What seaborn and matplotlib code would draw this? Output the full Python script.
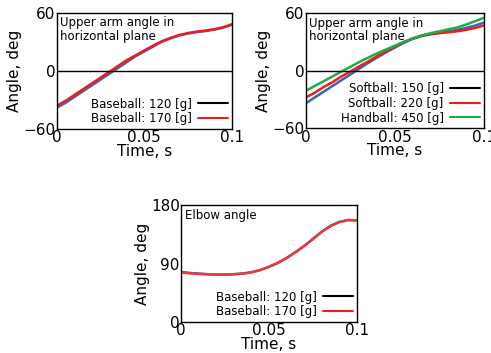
import numpy as np
import pandas as pd
import seaborn as sns
import matplotlib.pyplot as plt
from matplotlib.lines import Line2D

# time samples, s
t = [0, 0.005, 0.01, 0.015, 0.02, 0.025, 0.03, 0.035, 0.04, 0.045, 0.05,
     0.055, 0.06, 0.065, 0.07, 0.075, 0.08, 0.085, 0.09, 0.095, 0.1]

# upper arm angle, baseball
base120 = [-38, -33, -27, -21, -15, -9, -3, 3, 9, 15, 20,
           25, 30, 33.5, 36.5, 38.5, 40, 41, 42.5, 44.5, 47.5]
base170 = [-36, -31, -25, -19, -13, -7, -1, 5, 11, 16, 21,
           26, 30.5, 34, 37, 39, 40.5, 41.5, 43, 45, 48]

# upper arm angle, softball / handball
soft150 = [-34, -28, -22, -16, -10, -4, 2, 8, 13.5, 19, 24,
           29, 33, 36, 38, 39.5, 41, 42.5, 44.5, 47, 50]
soft220 = [-28, -23, -17, -12, -6, -1, 4.5, 9.5, 15, 20, 25,
           29.5, 33.5, 36.5, 38, 39, 40, 41, 42.5, 44.5, 47]
hand450 = [-21, -16, -11, -6, -1, 4, 9, 13.5, 18, 22, 26,
           30, 33.5, 36.5, 39, 41, 43, 45, 48, 51.5, 55]

# elbow angle, baseball
elb120 = [77, 75.5, 74.5, 73.5, 73, 73, 73.5, 74.5, 76.5, 80, 85,
          91, 98.5, 107.5, 117, 128, 139, 148, 154, 157, 156.5]
elb170 = [76, 75, 74, 73.5, 73, 73, 73.5, 74.5, 76.5, 80, 85,
          91, 98.5, 107.5, 117, 128, 139, 148, 154, 157, 156.5]

sns.set_theme(style="white")
plt.rcParams['font.family'] = ['DejaVu Sans']
plt.rcParams['text.color'] = 'black'
plt.rcParams['axes.labelcolor'] = 'black'
plt.rcParams['xtick.color'] = 'black'
plt.rcParams['ytick.color'] = 'black'

fig = plt.figure(figsize=(4.91, 3.53), dpi=100)


def panel(rect, series, legend_colors, labels, ylim, yticks, note, zero_line):
    ax = fig.add_axes(rect)
    for vals, c in series:
        df = pd.DataFrame({"Time": t, "Angle": vals})
        sns.lineplot(data=df, x="Time", y="Angle", color=c, lw=1.8, ax=ax)
    if zero_line:
        ax.axhline(0, color="black", lw=1)
    ax.set_xlim(0, 0.1)
    ax.set_ylim(*ylim)
    ax.set_xticks([0, 0.05, 0.1])
    ax.set_xticklabels(["0", "0.05", "0.1"])
    ax.set_yticks(yticks)
    ax.tick_params(length=0, labelsize=11, pad=1)
    ax.set_xlabel("Time, s", fontsize=11, labelpad=-1)
    ax.set_ylabel("Angle, deg", fontsize=11, labelpad=1)
    for s in ax.spines.values():
        s.set_color("black")
        s.set_linewidth(1)
    ax.text(0.02, 0.97, note, transform=ax.transAxes, ha="left", va="top",
            fontsize=8.5, linespacing=1.05)
    handles = [Line2D([], [], color=c, lw=1.5) for c in legend_colors]
    ax.legend(handles, labels, loc="lower right", frameon=False,
              markerfirst=False, fontsize=8.5, handlelength=2.6,
              borderaxespad=0.1, labelspacing=0.15, handletextpad=0.5,
              borderpad=0.2)
    return ax


panel([0.116, 0.635, 0.356, 0.329],
      [(base120, "#3a66b5"), (base170, "#ee1c1c")],
      ["black", "#ee1c1c"],
      ["Baseball: 120 [g]", "Baseball: 170 [g]"],
      (-60, 60), [-60, 0, 60], "Upper arm angle in\nhorizontal plane", True)

panel([0.623, 0.637, 0.3625, 0.326],
      [(soft150, "#3a66b5"), (soft220, "#ee1c1c"), (hand450, "#1aae4a")],
      ["black", "#ee1c1c", "#1aae4a"],
      ["Softball: 150 [g]", "Softball: 220 [g]", "Handball: 450 [g]"],
      (-60, 60), [-60, 0, 60], "Upper arm angle in\nhorizontal plane", True)

panel([0.369, 0.088, 0.358, 0.331],
      [(elb120, "#3a66b5"), (elb170, "#e83a3a")],
      ["black", "#ee1c1c"],
      ["Baseball: 120 [g]", "Baseball: 170 [g]"],
      (0, 180), [0, 90, 180], "Elbow angle", False)

fig.savefig("out.png", dpi=100)
